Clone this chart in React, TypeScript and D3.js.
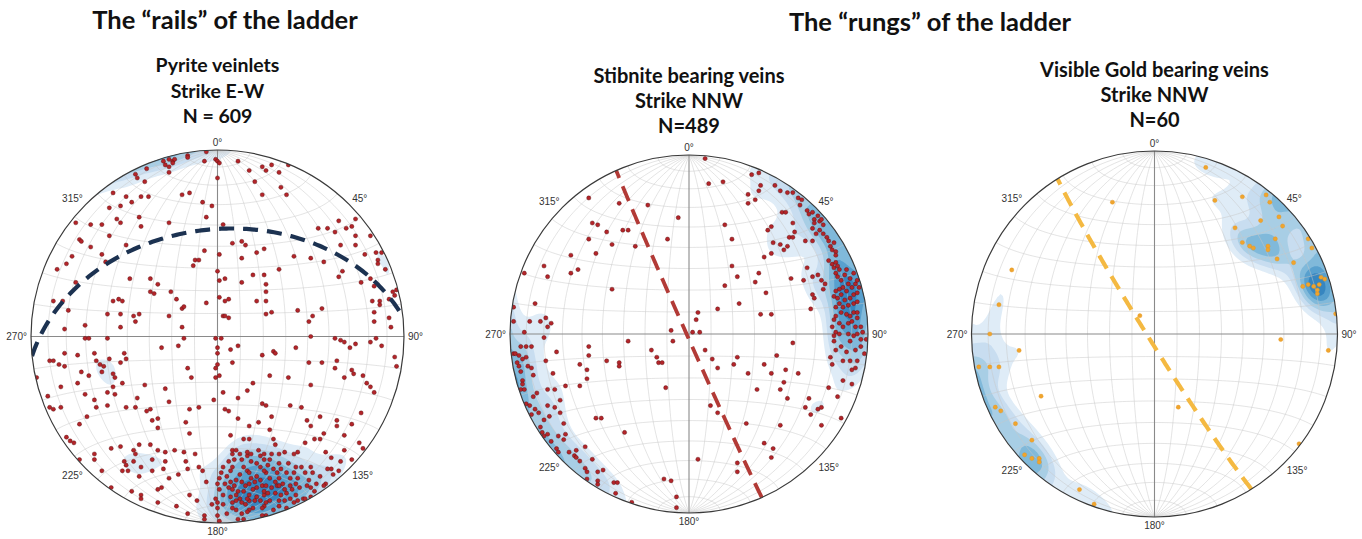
import React, { useMemo } from 'react';
import * as d3 from 'd3';

const W = 1362;
const H = 539;

// Poles plotted on each net: [east, north] in percent of the primitive radius (equal-area projection)
const pyritePoles: [number, number][] = [
[-29,94],[-26,95],[-24,94],[-23,95],[-28,92],[-26,91],[-24,93],[-16,97],[-16,96],[-6,99],[-1,95],[0,94],[1,93],[-7,94],[0,85],[11,94],[17,89],[24,91],[26,89],[29,92],[33,88],[38,92],[20,83],[34,80],[24,76],[37,76],
[-44,87],[-43,85],[-38,90],[-26,88],[-39,83],[-56,77],[-49,75],[-46,72],[-41,75],[-37,75],[-19,76],[-15,77],[-8,72],[-3,70],
[-58,69],[-52,70],[-54,63],[-52,61],[-42,64],[-41,59],[-26,61],[-6,64],[3,60],
[-76,61],[-68,60],[-62,60],[-58,54],[-49,49],[-74,52],[-73,51],[-68,48],[-62,44],[-78,43],[-81,39],[-86,36],[-60,40],[-76,29],[-88,19],[-83,19],[-80,14],[-82,4],[-71,6],
[-47,31],[-36,31],[-32,28],[-36,24],[-34,23],[-25,24],[-22,20],[-19,15],[-18,16],[-6,18],[0,35],[1,30],[4,31],[1,21],[4,19],[6,20],[3,11],[4,11],[6,10],
[-56,19],[-53,20],[-51,19],[-59,12],[-52,12],[-45,11],[-42,12],[-44,8],[-52,5],[-26,11],[-19,5],[-12,41],[-10,41],[-13,38],[-7,46],[1,44],
[8,50],[13,51],[15,49],[21,45],[25,47],[13,42],[33,36],[19,33],[25,33],[26,28],[13,29],[26,24],[21,19],[26,19],[26,12],[29,13],[43,14],[49,8],[51,11],[56,15],
[41,43],[50,42],[57,40],[65,32],[67,35],[77,29],[82,31],[84,27],[94,24],[95,22],
[54,58],[59,58],[63,56],[65,62],[69,58],[72,59],[74,54],[74,49],[66,49],[79,44],[85,45],[88,45],[86,41],[86,39],[90,36],[74,63],[82,54],
[83,19],[87,19],[87,17],[92,20],[92,10],[84,13],[84,8],[93,5],[96,25],
[-71,-1],[-69,-1],[-59,-1],[-30,-6],[-21,-5],[-18,-1],[-1,-1],[2,-1],[0,-6],[0,-9],[7,-7],[11,-5],[24,-10],[30,-8],[31,-9],[42,-6],[50,0],[63,-1],[66,-2],[68,-3],[71,-6],[74,-4],[82,-3],[85,-1],[88,-5],[95,-11],[96,-16],
[-97,-22],[-90,-13],[-88,-13],[-85,-15],[-82,-16],[-82,-9],[-75,-10],[-73,-19],[-69,-21],[-66,-9],[-65,-13],[-63,-15],[-61,-16],[-62,-19],[-58,-12],[-56,-20],[-55,-22],[-50,-9],[-49,-12],[-52,-14],
[-91,-32],[-90,-38],[-88,-39],[-84,-38],[-84,-27],[-75,-25],[-71,-31],[-70,-43],[-66,-34],[-65,-38],[-59,-30],[-59,-37],[-56,-27],[-55,-31],[-51,-25],[-49,-38],[-43,-33],[-44,-38],[-39,-26],[-38,-40],[-36,-39],[-35,-45],[-32,-44],[-28,-28],[-26,-35],[-32,-49],
[-16,-17],[-14,-22],[-1,-17],[0,-15],[-1,-22],[1,-21],[3,-30],[-2,-34],[8,-14],[11,-33],[16,-29],[19,-25],[28,-21],[38,-22],[50,-26],[49,-14],[56,-14],[64,-13],[63,-17],[72,-18],[73,-20],[78,-21],[80,-25],[82,-27],[84,-30],[68,-22],[77,-41],
[-15,-39],[-17,-46],[-10,-38],[-15,-52],[4,-39],[6,-40],[11,-44],[24,-36],[26,-37],[29,-43],[39,-37],[45,-38],[48,-45],[55,-43],[64,-45],[64,-48],[72,-47],[57,-52],[68,-53],[76,-57],[78,-60],[72,-66],
[-81,-54],[-79,-56],[-77,-57],[-74,-47],[-57,-60],[-52,-59],[-50,-67],[-45,-61],[-42,-58],[-44,-63],[-45,-67],[-36,-58],[-32,-61],[-35,-66],[-28,-62],[-28,-67],[-23,-61],[-18,-62],[-17,-67],[-12,-63],
[-74,-66],[-66,-63],[-66,-66],[-62,-72],[-51,-72],[-48,-72],[-49,-69],[-42,-75],[-41,-70],[-35,-72],[-29,-71],[-26,-76],[-21,-74],[-16,-71],[-10,-70],[-8,-72],[-6,-78],
[-57,-81],[-46,-83],[-41,-85],[-41,-87],[-32,-82],[-32,-89],[-30,-81],[-22,-91],[-15,-85],[-11,-88],[-7,-96],[-7,-98],[-16,-95],[-3,-90],
[65,-72],[61,-71],[59,-71],[66,-67],[58,-79],[57,-80],[68,-61],
[0,-96],[1,-99],[0,-92],[7,-53],[14,-55],[17,-55],[17,-48],[22,-46],[28,-50],[30,-55],[31,-58],[33,-63],[29,-63],[36,-62],[38,-68],[41,-63],[43,-62],[47,-57],[50,-48],[52,-55],[55,-55],[45,-70],[42,-70],[43,-76],[48,-80],[50,-81],[52,-83],[50,-86],[49,-77],[46,-87],[42,-85],[40,-82],[37,-84],[34,-85],[36,-88],[33,-88],[32,-80],[28,-88],[25,-85],[25,-91],[26,-96],[24,-92],[19,-92],[17,-93],[15,-90],[12,-87],[10,-88],[8,-89],[7,-86],[3,-85],[0,-89],[1,-82],[-1,-87],[0,-79],[1,-76],[4,-79],[7,-78],[5,-75],[7,-72],[8,-70],[9,-66],[8,-63],[8,-61],[10,-61],[12,-63],[14,-70],[16,-72],[17,-73],[18,-76],[21,-75],[20,-78],[23,-77],[24,-80],[21,-81],[19,-82],[17,-79],[15,-80],[13,-78],[12,-74],[10,-77],[9,-80],[11,-83],[14,-83],[17,-85],[21,-86],[25,-83],[26,-80],[28,-76],[26,-73],[25,-72],[23,-70],[21,-68],[18,-67],[16,-64],[18,-63],[23,-64],[25,-66],[27,-69],[30,-71],[32,-73],[33,-76],[31,-78],[29,-81],[35,-79],[39,-76],[37,-73],[34,-71],[33,-68],[28,-66],[25,-63],[22,-61],[16,-62],[13,-66],[6,-67],[3,-70],[2,-73],[24,-96],[26,-89],[13,-95],[16,-94],[10,-93],[11,-98],[14,-98],[3,-90],[5,-95],[8,-92],[30,-93],[33,-91],[37,-92],[41,-89],[43,-88],[39,-87],[47,-87],[53,-79],[42,-79],[41,-73],[44,-81],[36,-82],[39,-80],[33,-80],[31,-84],[27,-84],[23,-88],[20,-88],[17,-88],[16,-87],[13,-89],[10,-85],[8,-82],[6,-81],[55,-75],[51,-73],[50,-70],[47,-73],[58,-62],[61,-65],[62,-74]
];

const stibnitePoles: [number, number][] = [
[-56,76],[-39,73],[-23,72],[-6,65],[-54,62],[-51,61],[-46,57],[-37,58],[-34,58],[-56,53],[-43,50],[-30,49],[-12,53],[-52,45],[-66,44],[-81,38],[-62,36],[-66,34],[-79,32],[-92,34],[-43,25],[-86,17],[-98,15],[-80,9],[-89,7],[-83,7],[-79,4],[-77,6],[-98,7],[-92,1],[-81,-2],[-94,-7],[-91,-7],[-88,-7],[-34,-4],[-9,-4],[-10,2],[-74,-10],[-56,-7],[-56,-12],[-61,-17],[-98,-11],[-97,-11],[-95,-12],[-93,-14],[-91,-13],[-96,-16],[-95,-18],[-94,-21],[-90,-18],[-88,-19],[-87,-23],[-80,-15],[-46,-15],[-39,-16],[-39,-18],[-21,-9],[-18,-13],[-17,-16],[-15,-16],[-13,-30],[-76,-22],[-57,-20],[-57,-25],[-61,-29],[-69,-29],[-93,-26],[-93,-28],[-94,-31],[-92,-31],[-85,-33],[-79,-31],[-75,-31],[-72,-37],[-75,-41],[-79,-40],[-87,-35],[-91,-39],[-89,-40],[-86,-42],[-88,-45],[-84,-44],[-81,-48],[-78,-46],[-72,-44],[-70,-50],[-52,-47],[-49,-47],[-36,-55],[-83,-52],[-82,-55],[-81,-57],[-79,-56],[-77,-60],[-73,-57],[-69,-56],[-70,-59],[-74,-64],[-73,-66],[-67,-66],[-63,-65],[-64,-68],[-63,-69],[-58,-63],[-61,-71],[-58,-75],[-57,-77],[-54,-70],[-51,-77],[-48,-76],[-51,-82],[-51,-84],[-42,-83],[-40,-83],[-41,-89],[-57,-81],[-32,-94],[-14,-81],[-10,-82],[-7,-91],[-7,-97],
[9,98],[11,84],[19,85],[35,89],[39,90],[40,83],[33,78],[37,75],[33,73],[39,80],[48,83],[51,80],[55,79],[58,79],[61,76],[62,72],[52,68],[54,68],[58,62],[20,61],[24,53],[46,60],[44,58],[59,57],[47,51],[51,50],[53,47],[55,49],[42,43],[46,45],[56,54],[58,54],[24,38],[27,32],[39,34],[37,29],[20,27],[28,17],[16,14],[40,11],[46,11],[43,23],[57,31],[4,8],[5,12],[6,1],[2,1],[9,-9],[13,-14],[16,-19],[27,-13],[25,-17],[33,-22],[42,-17],[46,-22],[49,-12],[54,-20],[53,-27],[51,-31],[38,-31],[55,-36],[61,-22],[58,-5],[12,-40],[16,-44],[32,-50],[51,-51],[67,-36],[65,-41],[68,-45],[72,-42],[74,-41],[74,-51],[83,-35],[86,-26],[91,-28],[85,-47],[78,-30],[91,-20],[42,-61],[47,-64],[46,-69],[27,-72],[27,-77],[5,-70],
[63,75],[66,69],[67,67],[69,68],[70,64],[70,62],[72,66],[73,63],[74,64],[75,61],[69,59],[71,56],[73,58],[75,56],[77,54],[78,52],[79,49],[81,51],[80,47],[82,46],[82,44],[65,52],[69,52],[66,37],[64,30],[69,32],[72,33],[74,30],[76,28],[75,25],[69,22],[70,20],[68,14],[78,41],[80,39],[81,37],[82,40],[83,38],[84,36],[82,34],[83,32],[85,30],[87,33],[88,36],[90,31],[92,34],[89,28],[86,26],[84,25],[82,24],[81,21],[83,20],[85,22],[88,24],[91,26],[93,28],[94,30],[92,22],[90,20],[87,19],[84,17],[82,15],[86,15],[89,16],[92,17],[94,18],[94,23],[95,26],[85,12],[88,11],[90,10],[92,12],[94,12],[82,10],[81,8],[80,4],[84,6],[86,4],[89,6],[91,7],[93,4],[94,9],[96,4],[82,1],[84,0],[81,-1],[89,0],[92,-1],[94,0],[96,-3],[90,-4],[81,-4],[82,-9],[85,-7],[88,-10],[93,-9],[96,-7],[98,-11],[86,-15],[90,-15],[94,-15],[79,-13],[80,-17],[93,-19],[99,-3],[97,1]
];

const goldPoles: [number, number][] = [
[28,91],[33,73],[48,75],[61,76],[63,72],[58,62],[44,58],[48,50],[52,48],[54,47],[62,48],[62,46],[66,52],[67,41],[76,39],[70,59],[84,52],[86,47],[84,27],[87,26],[90,27],[91,31],[89,22],[93,30],[99,11],[-8,10],[-23,72],[-78,35],[-85,16],[-90,0],[-74,-9],[-96,-18],[-90,-18],[-85,-18],[-62,-34],[-87,-40],[-84,-42],[-76,-49],[-67,-58],[-71,-66],[-67,-68],[-63,-68],[-63,-70],[-41,-85],[-33,-93],[13,-40],[69,-3],[95,-9],[79,-60],[68,64],[81,26],[89,24]
];

const groupTitles = ['The \u201Crails\u201D of the ladder', 'The \u201Crungs\u201D of the ladder'];
const netTitles = [
  ['Pyrite veinlets', 'Strike E-W', 'N = 609'],
  ['Stibnite bearing veins', 'Strike NNW', 'N=489'],
  ['Visible Gold bearing veins', 'Strike NNW', 'N=60'],
];
const planeStrikes = [264, 156, 148];
const planeDips = [42, 89, 87];
const azimuthTicks = [0, 45, 90, 135, 180, 225, 270, 315];
const gridAngles = [-80, -70, -60, -50, -40, -30, -20, -10, 10, 20, 30, 40, 50, 60, 70, 80];
const pyriteLevels = [0.27, 0.39, 0.51, 0.63, 0.76, 0.89];
const stibniteLevels = [0.2, 0.32, 0.46, 0.6, 0.75, 0.9];
const goldLevels = [0.17, 0.3, 0.44, 0.58, 0.72, 0.86];

const NETS = [
  { cx: 217.5, cy: 336.5, r: 186.5, poles: pyritePoles, levels: pyriteLevels, k: 100, titleY: [72, 98, 123], titleSize: 19.5,
    pointFill: '#b3252a', pointStroke: '#561010', pointR: 2.1, lineColor: '#1c3251', lineW: 4.2, dash: '15 9' },
  { cx: 689, cy: 334, r: 179, poles: stibnitePoles, levels: stibniteLevels, k: 110, titleY: [83, 108, 133], titleSize: 20,
    pointFill: '#b3252a', pointStroke: '#561010', pointR: 2.1, lineColor: '#b23a36', lineW: 3.8, dash: '16 9' },
  { cx: 1154.5, cy: 334, r: 183, poles: goldPoles, levels: goldLevels, k: 95, titleY: [77, 102, 127], titleSize: 20,
    pointFill: '#f0a52e', pointStroke: '#e39420', pointR: 2.1, lineColor: '#f4b942', lineW: 4.2, dash: '15 9' },
];

const RAD = Math.PI / 180;

function proj(e: number, n: number, d: number): [number, number] {
  const s = Math.sqrt(1 + Math.max(0, d));
  return [e / s, n / s];
}

function netPoint(lam: number, phi: number): [number, number] {
  const e = Math.cos(phi * RAD) * Math.sin(lam * RAD);
  const n = Math.sin(phi * RAD);
  const z = Math.cos(phi * RAD) * Math.cos(lam * RAD);
  return proj(e, n, z);
}

function planeCurve(strike: number, dip: number): [number, number][] {
  const S = [Math.sin(strike * RAD), Math.cos(strike * RAD), 0];
  const dd = (strike + 90) * RAD;
  const D = [Math.cos(dip * RAD) * Math.sin(dd), Math.cos(dip * RAD) * Math.cos(dd), Math.sin(dip * RAD)];
  return d3.range(0, 180.001, 1).map((t) => {
    const c = Math.cos(t * RAD), s = Math.sin(t * RAD);
    return proj(c * S[0] + s * D[0], c * S[1] + s * D[1], c * S[2] + s * D[2]);
  });
}

function toVec(X: number, Y: number): [number, number, number] {
  let q = X * X + Y * Y;
  if (q > 1) { const s = 1 / Math.sqrt(q); X *= s; Y *= s; q = 1; }
  const f = Math.sqrt(2 - q);
  return [X * f, Y * f, 1 - q];
}

function densityGrid(poles: [number, number][], k: number, N: number): number[] {
  const v = poles.map(([e, n]) => toVec(e / 100, n / 100));
  const vals: number[] = new Array(N * N);
  for (let j = 0; j < N; j++) {
    for (let i = 0; i < N; i++) {
      const X = -1 + ((i + 0.5) * 2) / N;
      const Y = 1 - ((j + 0.5) * 2) / N;
      const [a, b, c] = toVec(X, Y);
      let sum = 0;
      for (let p = 0; p < v.length; p++) {
        const d = Math.abs(a * v[p][0] + b * v[p][1] + c * v[p][2]);
        sum += Math.exp(k * (d - 1));
      }
      vals[j * N + i] = sum;
    }
  }
  return vals;
}

function buildNet(cfg: typeof NETS[number], idx: number) {
  const { cx, cy, r } = cfg;
  const x = d3.scaleLinear().domain([-100, 100]).range([cx - r, cx + r]);
  const y = d3.scaleLinear().domain([-100, 100]).range([cy + r, cy - r]);
  const line = d3.line<[number, number]>().x((d) => x(d[0] * 100)).y((d) => y(d[1] * 100));
  const steps = d3.range(-90, 90.001, 2);
  const meridians = gridAngles.map((lam) => line(steps.map((phi) => netPoint(lam, phi))) || '');
  const parallels = gridAngles.map((phi) => line(steps.map((lam) => netPoint(lam, phi))) || '');
  const plane = line(planeCurve(planeStrikes[idx], planeDips[idx])) || '';
  const N = 120;
  const vals = densityGrid(cfg.poles, cfg.k, N);
  const mx = d3.max(vals) || 1;
  const contours = d3.contours().size([N, N]).thresholds(cfg.levels.map((f) => f * mx))(vals);
  const gp = d3.geoPath();
  const fills = contours.map((c, i) => ({ d: gp(c as any) || '', color: d3.interpolateBlues(0.12 + i * 0.11) }));
  const labels = azimuthTicks.map((az) => {
    const rr = r + 4;
    const px = cx + rr * Math.sin(az * RAD);
    const py = cy - rr * Math.cos(az * RAD);
    const s = Math.sin(az * RAD), c = Math.cos(az * RAD);
    const anchor = Math.abs(s) < 0.1 ? 'middle' : s > 0 ? 'start' : 'end';
    const dy = Math.abs(c) < 0.1 ? '0.35em' : c > 0 ? '0em' : '0.75em';
    return { az, px, py, anchor, dy };
  });
  return { x, y, meridians, parallels, plane, fills, N, labels };
}

export default function App() {
  const nets = useMemo(() => NETS.map((cfg, i) => buildNet(cfg, i)), []);
  return (
    <svg width={W} height={H} viewBox={`0 0 ${W} ${H}`}
      style={{ position: 'absolute', left: 0, top: 0, background: '#ffffff' }}>
      <defs>
        {NETS.map((cfg, i) => (
          <clipPath id={`netclip${i}`} key={i}>
            <circle cx={cfg.cx} cy={cfg.cy} r={cfg.r} />
          </clipPath>
        ))}
      </defs>
      <rect x={0} y={0} width={W} height={H} fill="#ffffff" />
      <g fontFamily="Lato, 'Open Sans', sans-serif" fontWeight={700} fill="#111111" textAnchor="middle">
        <text x={225} y={29} fontSize={25.5}>{groupTitles[0]}</text>
        <text x={930} y={31} fontSize={25.5}>{groupTitles[1]}</text>
        {NETS.map((cfg, i) => (
          <g key={i}>
            {netTitles[i].map((t, j) => (
              <text key={j} x={cfg.cx} y={cfg.titleY[j]} fontSize={cfg.titleSize}>{t}</text>
            ))}
          </g>
        ))}
      </g>
      {NETS.map((cfg, i) => {
        const n = nets[i];
        return (
          <g key={i}>
            <g clipPath={`url(#netclip${i})`}>
              <g transform={`translate(${cfg.cx - cfg.r},${cfg.cy - cfg.r}) scale(${(2 * cfg.r) / n.N})`}>
                {n.fills.map((f, j) => (
                  <path key={j} d={f.d} fill={f.color} stroke="none" />
                ))}
              </g>
              {n.meridians.map((d, j) => (
                <path key={'m' + j} d={d} fill="none" stroke="#c8c8c8" strokeOpacity={0.7} strokeWidth={0.7} />
              ))}
              {n.parallels.map((d, j) => (
                <path key={'p' + j} d={d} fill="none" stroke="#c8c8c8" strokeOpacity={0.7} strokeWidth={0.7} />
              ))}
              <line x1={n.x(0)} x2={n.x(0)} y1={n.y(-100)} y2={n.y(100)} stroke="#8a8a8a" strokeWidth={1.1} />
              <line x1={n.x(-100)} x2={n.x(100)} y1={n.y(0)} y2={n.y(0)} stroke="#8a8a8a" strokeWidth={1.1} />
              {cfg.poles.map((p, j) => (
                <circle key={'c' + j} cx={n.x(p[0])} cy={n.y(p[1])} r={cfg.pointR}
                  fill={cfg.pointFill} stroke={cfg.pointStroke} strokeWidth={0.4} />
              ))}
              <path d={n.plane} fill="none" stroke={cfg.lineColor} strokeWidth={cfg.lineW} strokeDasharray={cfg.dash} />
            </g>
            <circle cx={cfg.cx} cy={cfg.cy} r={cfg.r} fill="none" stroke="#3a3a3a" strokeWidth={1.2} />
            <g fontFamily="'Liberation Sans', Arial, sans-serif" fontSize={10} fill="#333333">
              {n.labels.map((l) => (
                <text key={l.az} x={l.px} y={l.py} dy={l.dy} textAnchor={l.anchor}>{`${l.az}\u00B0`}</text>
              ))}
            </g>
          </g>
        );
      })}
    </svg>
  );
}
